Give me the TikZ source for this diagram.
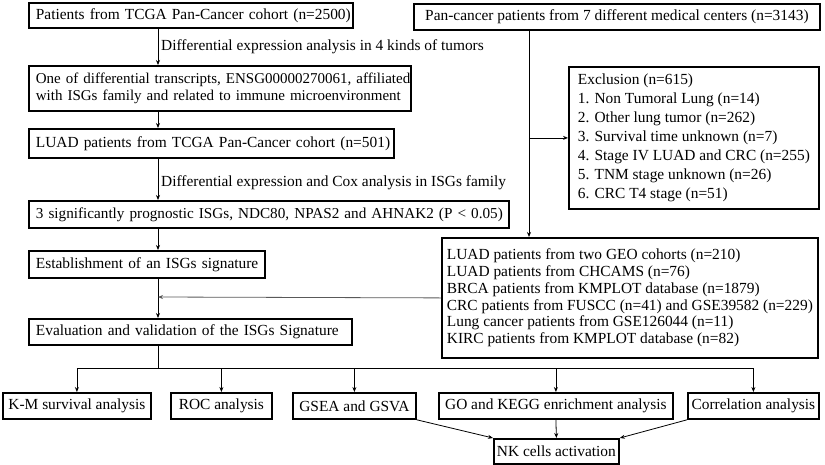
\documentclass[tikz,border=0pt]{standalone}
\usepackage{fontspec}
\setmainfont{Liberation Serif}
\usetikzlibrary{arrows.meta}
\begin{document}
\begin{tikzpicture}[x=1pt,y=-1pt,
  every node/.style={font=\fontsize{15.4}{17}\selectfont},
  box/.style={draw, line width=1.8pt, inner xsep=7pt, inner ysep=0pt, anchor=north west, align=left},
  cbox/.style={draw, line width=1.8pt, inner sep=0pt, anchor=north west, align=center},
  conn/.style={line width=0.8pt, -{Stealth[length=5pt,width=4pt]}},
  plain/.style={line width=0.8pt},
  lbl/.style={anchor=west, inner sep=0pt}]
\useasboundingbox (0,0) rectangle (825,464);

% left column
\node[box, minimum width=324, text width=310, minimum height=25] (b1) at (28,2) {\mbox{Patients from TCGA Pan-Cancer cohort (n=2500)}};
\node[box, font=\fontsize{15}{17}\selectfont, minimum width=382, text width=368, minimum height=45] (b2) at (28,65) {\mbox{One of differential transcripts, ENSG00000270061, affiliated}\\\mbox{with ISGs family and related to immune microenvironment}};
\node[box, minimum width=365, text width=351, minimum height=29] (b3) at (28,128) {\mbox{LUAD patients from TCGA Pan-Cancer cohort (n=501)}};
\node[box, font=\fontsize{15.2}{17}\selectfont, minimum width=480, text width=466, minimum height=27] (b4) at (28,200) {\mbox{3 significantly prognostic ISGs, NDC80, NPAS2 and AHNAK2 (P < 0.05)}};
\node[box, minimum width=236, text width=222, minimum height=27] (b5) at (28,250) {\mbox{Establishment of an ISGs signature}};
\node[box, minimum width=323, text width=309, minimum height=26] (b6) at (28,318) {\mbox{Evaluation and validation of the ISGs Signature}};

% right column
\node[cbox, minimum width=406, minimum height=26] (tr) at (413,3) {Pan-cancer patients from 7 different medical centers (n=3143)};
\node[cbox, align=left, font=\fontsize{15.4}{19}\selectfont, minimum width=250, minimum height=142] (ex) at (568,66) {Exclusion (n=615)\\1. Non Tumoral Lung (n=14)\\2. Other lung tumor (n=262)\\3. Survival time unknown (n=7)\\4. Stage IV LUAD and CRC (n=255)\\5. TNM stage unknown (n=26)\\6. CRC T4 stage (n=51)};
\node[cbox, align=left, font=\fontsize{15.4}{16.8}\selectfont, minimum width=376, minimum height=120] (val) at (441,237) {LUAD patients from two GEO cohorts (n=210)\\LUAD patients from CHCAMS (n=76)\\BRCA patients from KMPLOT database (n=1879)\\CRC patients from FUSCC (n=41) and GSE39582 (n=229)\\Lung cancer patients from GSE126044 (n=11)\\KIRC patients from KMPLOT database (n=82)};

% bottom row
\node[cbox, minimum width=148, minimum height=26] (km) at (2,392) {K-M survival analysis};
\node[cbox, minimum width=101, minimum height=26] (roc) at (170,392) {ROC analysis};
\node[cbox, minimum width=123, minimum height=26] (gsea) at (292,392) {GSEA and GSVA};
\node[cbox, minimum width=234, minimum height=26] (go) at (438,392) {GO and KEGG enrichment analysis};
\node[cbox, minimum width=131, minimum height=26] (cor) at (687,392) {Correlation analysis};
\node[cbox, minimum width=125, minimum height=25] (nk) at (493,438) {NK cells activation};

% spine coordinates
\coordinate (sp) at (158,0);
\coordinate (rs) at (529,0);
\coordinate (jn) at (158,297);
\coordinate (bus) at (158,368);

% left spine connectors
\draw[conn] (sp |- b1.south) -- (sp |- b2.north);
\node[lbl] (l1) at (161,47) {Differential expression analysis in 4 kinds of tumors};
\draw[conn] (sp |- b2.south) -- (sp |- b3.north);
\draw[conn] (sp |- b3.south) -- (sp |- b4.north);
\node[lbl] (l2) at (161,183) {Differential expression and Cox analysis in ISGs family};
\draw[conn] (sp |- b4.south) -- (sp |- b5.north);
\draw[conn] (sp |- b5.south) -- (sp |- b6.north);

% right spine connectors
\draw[conn] (rs |- tr.south) -- (rs |- val.north);
\draw[conn] (rs |- ex.west) -- (ex.west);
\draw[line width=0.8pt, draw=black!65, -{Stealth[length=5pt,width=4pt]}] (val.west) -- (jn);

% bus to analyses
\draw[plain] (sp |- b6.south) -- (bus);
\draw[plain] (km.north |- bus) -- (cor.north |- bus);
\draw[conn] (km.north |- bus) -- (km.north);
\draw[conn] (roc.north |- bus) -- (roc.north);
\draw[conn] (gsea.north |- bus) -- (gsea.north);
\draw[conn] (go.north |- bus) -- (go.north);
\draw[conn] (cor.north |- bus) -- (cor.north);

% to NK cells
\draw[conn] (gsea.south east) -- (nk.north west);
\draw[conn] (go.south) -- (nk.north);
\draw[conn] (cor.south west) -- (nk.north east);
\end{tikzpicture}
\end{document}
